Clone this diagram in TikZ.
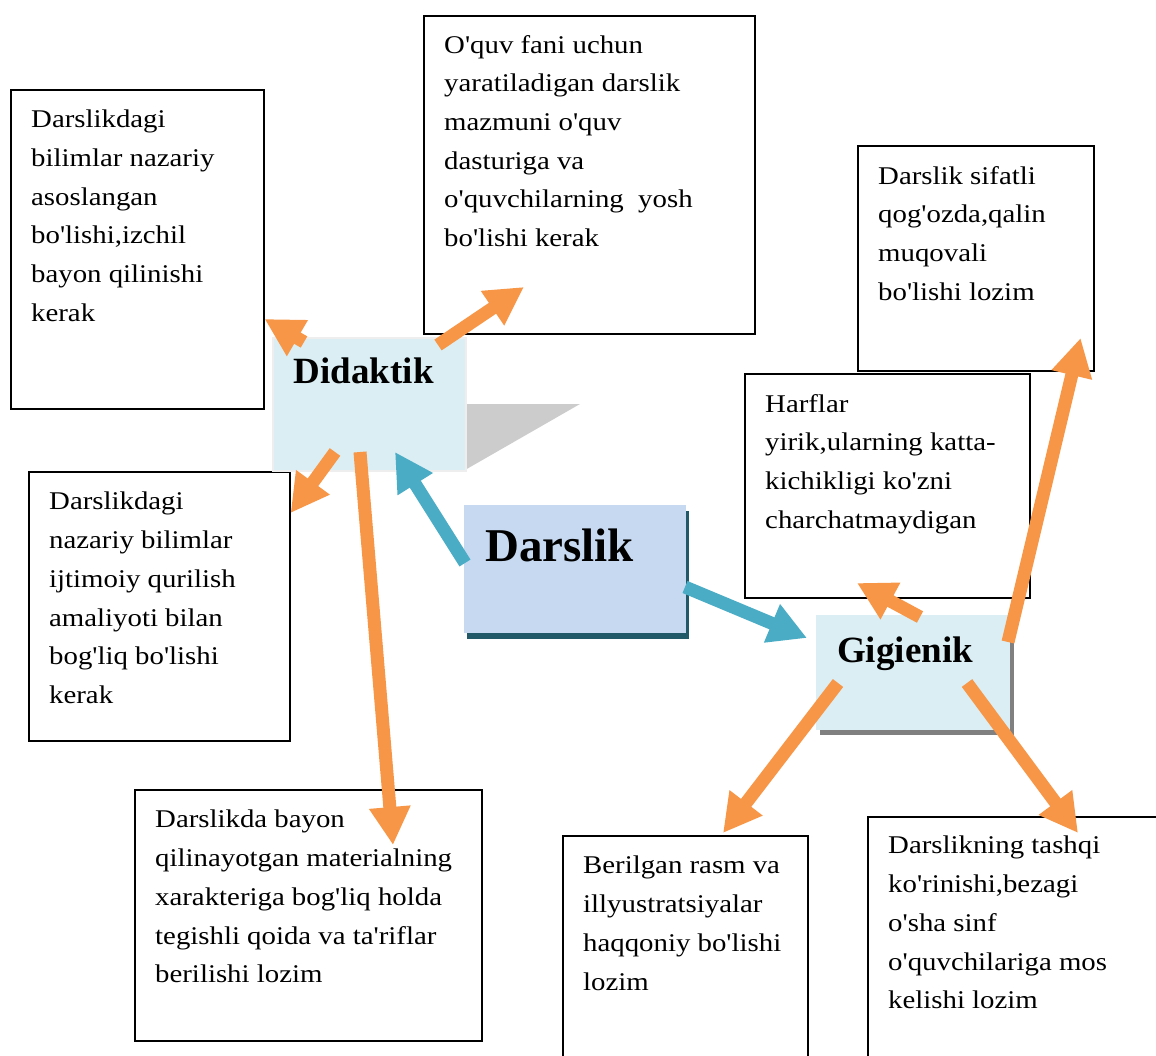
\documentclass[tikz,border=0pt]{standalone}
\usepackage{fontspec}
\setmainfont{Liberation Serif}
\newfontfamily\boxfont{Liberation Serif}[FakeStretch=1.13]
\usetikzlibrary{arrows.meta,shadows}
\definecolor{orng}{HTML}{F79646}
\definecolor{blu}{HTML}{4BACC6}
\definecolor{lightcyan}{HTML}{DAEEF3}
\definecolor{paleblue}{HTML}{C6D9F1}
\definecolor{darkteal}{HTML}{215968}
\definecolor{shadowgrey}{HTML}{808080}
\definecolor{bordergrey}{HTML}{EEEEEE}
\definecolor{trigrey}{HTML}{CCCCCC}

\begin{document}
\begin{tikzpicture}[x=1pt,y=-1pt,
    box/.style={draw=black,line width=1.6pt,anchor=north west,inner sep=0pt},
    txt/.style={anchor=north west,inner sep=0pt,align=left,font=\boxfont\fontsize{25.5}{38.7}\selectfont},
    head/.style={anchor=north west,align=left,inner ysep=0pt,inner xsep=21pt,font=\bfseries\fontsize{37}{44}\selectfont},
    arr/.style={line width=13pt,-{Triangle[width=39pt,length=38pt]}}]
    \useasboundingbox (0,0) rectangle (1156,1055);
    \node[box,minimum width=253pt,minimum height=319pt] (bA) at (10,89) {};
    \node[txt] (tA) at ([shift={(21,21)}]bA.north west) {Darslikdagi\\bilimlar nazariy\\asoslangan\\bo'lishi,izchil\\bayon qilinishi\\kerak};
    \node[box,minimum width=331pt,minimum height=318pt] (bB) at (423,15) {};
    \node[txt] (tB) at ([shift={(21,20)}]bB.north west) {O'quv fani uchun\\yaratiladigan darslik\\mazmuni o'quv\\dasturiga va\\o'quvchilarning\ \ yosh\\bo'lishi kerak};
    \node[box,minimum width=236pt,minimum height=225pt] (bC) at (857,145) {};
    \node[txt] (tC) at ([shift={(21,21)}]bC.north west) {Darslik sifatli\\qog'ozda,qalin\\muqovali\\bo'lishi lozim};
    \node[box,minimum width=285pt,minimum height=224pt] (bD) at (744,373) {};
    \node[txt] (tD) at ([shift={(21,21)}]bD.north west) {Harflar\\yirik,ularning katta-\\kichikligi ko'zni\\charchatmaydigan};
    \node[box,minimum width=261pt,minimum height=269pt] (bE) at (28,471) {};
    \node[txt] (tE) at ([shift={(21,21)}]bE.north west) {Darslikdagi\\nazariy bilimlar\\ijtimoiy qurilish\\amaliyoti bilan\\bog'liq bo'lishi\\kerak};
    \node[box,minimum width=347pt,minimum height=251pt] (bF) at (134,789) {};
    \node[txt] (tF) at ([shift={(21,21)}]bF.north west) {Darslikda bayon\\qilinayotgan materialning\\xarakteriga bog'liq holda\\tegishli qoida va ta'riflar\\berilishi lozim};
    \node[box,minimum width=245pt,minimum height=240pt] (bG) at (562,835) {};
    \node[txt] (tG) at ([shift={(21,21)}]bG.north west) {Berilgan rasm va\\illyustratsiyalar\\haqqoniy bo'lishi\\lozim};
    \node[box,minimum width=300pt,minimum height=260pt] (bH) at (867,816) {};
    \node[txt] (tH) at ([shift={(21,20)}]bH.north west) {Darslikning tashqi\\ko'rinishi,bezagi\\o'sha sinf\\o'quvchilariga mos\\kelishi lozim};
    \fill[trigrey] (465,404) -- (580,404) -- (465,470) -- cycle;
    \node[head,fill=lightcyan,draw=bordergrey,line width=1.5pt,minimum width=193pt,minimum height=133pt,text width=151pt,text height=46pt,text depth=87pt] (did) at (272,337) {Didaktik};
    \node[head,fill=paleblue,text width=180pt,text height=56pt,text depth=72pt,drop shadow={shadow xshift=3pt,shadow yshift=-6pt,fill=darkteal,opacity=1}] (dars) at (464,505) {\fontsize{47}{50}\selectfont Darslik};
    \node[head,fill=lightcyan,text width=152pt,text height=47pt,text depth=68pt,drop shadow={shadow xshift=4pt,shadow yshift=-5pt,fill=shadowgrey,opacity=1}] (gig) at (816,615) {Gigienik};
    \draw[arr,orng] ([shift={(32,5)}]did.north west) -- ([shift={(0,230)}]bA.north east);
    \draw[arr,orng] ([shift={(166,8)}]did.north west) -- ([shift={(101,272)}]bB.north west);
    \draw[arr,orng] ([shift={(63,115)}]did.north west) -- ([shift={(0,42)}]bE.north east);
    \draw[arr,orng] ([shift={(88,115)}]did.north west) -- ([shift={(259,56)}]bF.north west);
    \draw[arr,blu] ([shift={(1,58)}]dars.north west) -- ([shift={(123,115)}]did.north west);
    \draw[arr,blu] ([shift={(221,82)}]dars.north west) -- ([shift={(-9,23)}]gig.north west);
    \draw[arr,orng] ([shift={(104,2)}]gig.north west) -- ([shift={(113,210)}]bD.north west);
    \draw[arr,orng] ([shift={(192,27)}]gig.north west) -- ([shift={(-14,193)}]bC.north east);
    \draw[arr,orng] ([shift={(22,68)}]gig.north west) -- ([shift={(161,-2)}]bG.north west);
    \draw[arr,orng] ([shift={(151,68)}]gig.north west) -- ([shift={(211,17)}]bH.north west);
\end{tikzpicture}
\end{document}
